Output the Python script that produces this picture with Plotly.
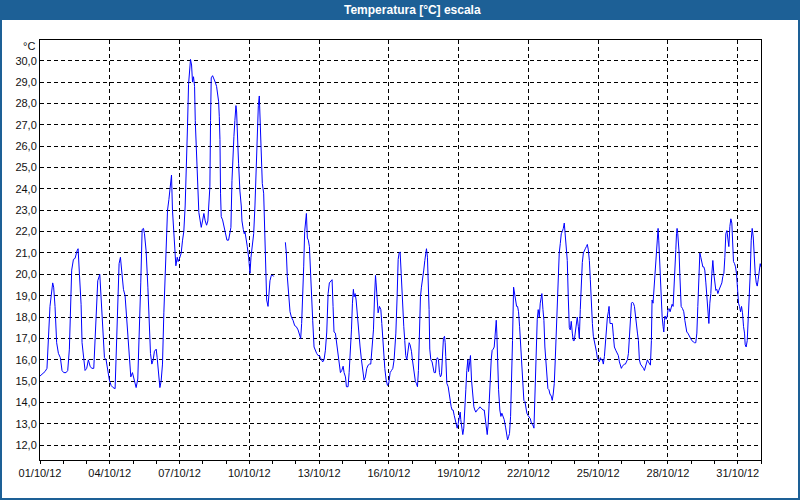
import plotly.graph_objects as go
import pandas as pd

# ---- data: hours since 01/10/2012 00:00 and temperature (°C); None = missing
hours = [
    0.0, 5.2, 7.2, 8.6, 10.3, 13.1, 14.1, 15.5, 17.2, 19.0, 21.0, 22.7, 24.5, 26.9, 28.6, 30.3,
    31.4, 32.7, 34.5, 36.2, 38.2, 39.3, 40.7, 42.4, 43.4, 45.1, 46.5, 48.2, 49.9, 51.7, 53.4, 55.5,
    56.8, 58.2, 59.6, 61.7, 63.0, 64.8, 66.5, 68.2, 69.9, 71.6, 73.4, 75.4, 77.5, 78.9, 80.3, 81.6,
    83.0, 84.4, 86.1, 87.8, 89.2, 90.6, 92.3, 93.7, 95.4, 97.5, 99.2, 100.9, 102.6, 104.0, 105.4,
    106.8, 107.8, 109.5, 111.3, 112.6, 114.0, 115.4, 116.8, 118.1, 119.9, 120.9, 122.3, 123.7,
    125.0, 126.4, 127.8, 129.2, 130.2, 131.6, 133.0, 134.7, 135.7, 136.7, 138.1, 139.5, 140.2,
    141.6, 142.6, 144.0, 145.7, 147.1, 148.4, 149.8, 151.2, 152.2, 153.3, 154.3, 155.3, 156.4,
    157.4, 158.4, 159.5, 160.2, 161.5, 162.6, 163.9, 165.3, 166.4, 167.7, 169.1, 170.5, 171.9,
    173.2, 175.3, 176.0, 176.7, 178.1, 179.4, 180.8, 182.2, 183.2, 184.3, 185.0, 185.7, 186.3,
    187.0, 188.4, 189.8, 190.8, 191.9, 192.9, 194.6, 196.0, 197.0, 198.1, 198.7, 200.1, 201.1,
    202.2, 202.9, 203.6, 204.2, 204.9, 205.6, 206.3, 207.7, 208.4, 209.8, 210.8, 211.5,
    212.5, 213.9, 215.3, 216.7, 217.7, 219.1, 220.5, 221.8, 223.2, 224.2, 225.3, 226.3, 227.3,
    228.4, 229.4, 230.8, 231.8, 232.8, 233.9, 235.3, 236.3, 237.3, 238.7, 240.4, 241.1, 247.0,
    253.2, 254.2, 255.2, 256.6, 258.0, 259.4, 261.1, 262.8, 264.5, 266.3, 267.6, 269.0, 270.0,
    271.1, 272.1, 273.1, 274.2, 274.9, 275.9, 276.9, 278.0, 279.0, 280.0, 281.4, 282.8, 284.2,
    285.5, 286.9, 288.3, 289.3, 290.4, 291.7, 293.1, 294.5, 295.9, 297.3, 298.6, 300.0, 301.4,
    302.4, 303.4, 304.8, 306.2, 307.6, 309.0, 310.0, 311.4, 312.8, 313.8, 315.2, 316.2, 317.9,
    319.0, 320.3, 321.4, 322.4, 323.4, 324.1, 325.2, 326.2, 327.6, 328.9, 330.3, 331.7, 333.1,
    334.4, 335.8, 337.2, 338.6, 340.0, 341.3, 342.7, 344.1, 345.1, 346.2, 346.8, 347.9, 348.9,
    350.3, 351.7, 352.7, 353.7, 354.8, 355.8, 357.2, 358.6, 359.9, 361.3, 362.7, 364.1, 365.4,
    367.2, 368.5, 369.6, 370.6, 371.6, 372.7, 373.3, 374.3, 375.4, 376.4, 377.4, 378.5, 379.5,
    380.9, 381.9, 383.3, 384.3, 385.3, 386.4, 387.4, 388.4, 389.5, 390.5, 391.5, 392.6, 393.6,
    395.0, 396.0, 397.1, 398.1, 398.8, 399.8, 400.5, 401.5, 402.2, 403.3, 404.6, 405.7, 406.7,
    408.1, 409.1, 410.1, 411.2, 412.2, 413.2, 414.3, 415.3, 416.3, 417.4, 418.1, 418.7, 419.8,
    421.2, 422.2, 423.2, 424.3, 425.3, 426.3, 427.4, 428.4, 429.4, 430.5, 431.5, 432.5, 433.6,
    434.2, 435.3, 436.3, 437.3, 438.4, 439.4, 440.4, 441.5, 442.2, 443.2, 444.2, 445.3, 446.6,
    447.7, 448.7, 449.7, 451.1, 452.5, 453.9, 455.6, 457.3, 458.4, 459.4, 460.4, 461.5, 462.5,
    463.5, 464.6, 465.6, 466.6, 467.7, 468.7, 469.7, 470.8, 471.4, 472.1, 473.2, 474.5, 475.6,
    476.6, 477.6, 479.0, 480.4, 481.4, 482.5, 483.5, 484.5, 485.6, 486.6, 487.6, 488.7, 489.7,
    490.7, 491.8, 492.8, 493.8, 494.9, 496.2, 497.3, 498.3, 499.3, 500.4, 501.4, 502.4, 503.5,
    504.5, 505.9, 507.3, 508.6, 509.7, 510.4, 511.1, 512.1, 513.1, 514.1, 515.2, 516.2, 517.2,
    517.9, 519.0, 520.0, 521.0, 522.1, 523.1, 524.1, 525.2, 526.2, 527.6, 528.6, 529.6, 530.7,
    531.7, 532.7, 533.8, 534.8, 535.8, 536.9, 537.9, 538.9, 540.0, 541.0, 542.0, 543.1, 544.1,
    545.1, 546.2, 547.2, 548.2, 549.3, 550.3, 551.3, 552.4, 553.4, 554.4, 555.5, 556.5, 557.5,
    558.6, 559.6, 560.7, 561.7, 562.7, 563.8, 564.8, 565.8, 566.9, 567.9, 568.9, 570.0, 571.0,
    572.0, 573.1, 574.1, 575.1, 576.2, 577.2, 578.2, 579.3, 580.3, 581.3, 582.4, 583.4, 584.4,
    585.5, 586.5, 587.2, 588.2, 589.3, 590.6, 591.7, 592.7, 594.1, 595.5, 596.8, 597.9, 598.9,
    599.9, 601.0, 602.0, 603.0, 604.1, 605.1, 606.1, 607.2, 608.2, 609.2, 610.3, 611.3, 612.3,
    613.4, 614.4, 615.4, 616.5, 617.5, 618.5, 619.6, 620.6, 621.6, 622.7, 623.7, 624.7, 625.8,
    626.8, 627.8, 628.9, 629.9, 630.9, 631.6, 632.6, 633.7, 634.7, 635.7, 636.4, 637.1, 637.8,
    638.5, 639.2, 639.9, 640.6, 641.3, 642.0, 643.0, 643.7, 644.4, 645.0, 646.1, 647.1, 648.1,
    649.2, 650.2, 651.2, 652.3, 653.3, 654.3, 655.4, 656.1, 656.8, 657.4, 658.1, 658.8, 659.5,
    660.2, 660.9, 661.6, 663.0, 664.3, 665.4, 666.4, 667.4, 668.5, 669.5, 670.5, 671.6, 672.6,
    674.0, 675.4, 676.7, 677.8, 678.8, 679.8, 680.9, 681.9, 682.9, 684.0, 685.0, 686.0, 687.1,
    688.1, 689.1, 690.2, 691.2, 692.2, 693.3, 694.3, 695.3, 696.4, 697.4, 698.4, 699.5, 700.5,
    701.5, 702.6, 703.6, 704.6, 705.7, 706.7, 707.7, 708.8, 709.8, 710.8, 711.9, 712.9, 713.9,
    714.6, 715.6, 716.7, 717.7, 718.7, 719.8, 720.8, 721.8, 722.9, 723.9, 724.9, 726.0, 727.0,
    727.7, 728.7, 729.8, 730.8, 731.8, 732.9, 733.9, 734.9, 736.0, 737.0, 738.0, 739.1, 740.1,
    741.1, 742.2, 743.2, 744.0,
]

temps = [
    15.24, 15.45, 15.6, 16.9, 18.5, 19.6, 19.4, 18.5, 16.8, 16.3, 16.1, 15.5, 15.4, 15.4, 15.5, 16.5,
    17.9, 20.2, 20.7, 20.75, 21.1, 21.2, 20.0, 18.6, 16.8, 16.1, 15.5, 15.6, 16.0, 15.7, 15.6, 15.6,
    17.1, 18.5, 19.7, 20.0, 19.0, 17.2, 16.1, 16.0, 15.5, 15.05, 14.8, 14.7, 14.65, 16.9, 18.6, 20.5,
    20.8, 19.9, 19.3, 19.0, 18.0, 17.1, 16.1, 15.2, 15.4, 15.05, 14.7, 15.1, 17.2, 19.6, 22.1,
    22.15, 21.9, 21.1, 19.4, 17.9, 16.3, 15.8, 16.0, 16.4, 16.5, 16.1, 15.5, 14.7,
    15.0, 15.8, 18.2, 20.0, 21.9, 23.0, 23.5, 24.3, 24.65, 23.0, 22.1, 21.0, 20.4,
    20.8, 20.6, 20.75, 21.0, 21.6, 22.0, 23.2, 25.0, 26.9, 28.9, 29.7, 30.06, 29.8,
    29.0, 29.25, 28.8, 27.2, 25.5, 23.9, 22.9, 22.5, 22.2, 22.5, 22.85, 22.5, 22.3,
    22.5, 24.1, 27.2, 29.2, 29.3, 29.1, 29.0, 28.8, 28.4, 28.1, 27.4, 26.3, 23.8,
    22.7, 22.55, 22.3, 22.0, 21.8, 21.6, 21.6, 22.0, 22.2, 24.4, 25.35, 26.45, 27.2,
    27.9, 27.6, 27.0, 26.0, 25.2, 24.4, 23.9, 23.2, 22.5, 22.1, 21.9, 22.0,
    21.6, 21.3, 20.8, 20.05, 20.8, 21.45, 21.9, 23.2, 25.35, 27.2, 27.9, 28.35, 27.1,
    25.7, 24.25, 23.8, 22.4, 20.05, 18.8, 18.5, 19.1, 19.7, 19.95, 19.95, 19.9, None,
    21.5, 21.0, 19.9, 19.0, 18.25, 18.0, 17.85, 17.6, 17.55, 17.4, 17.25, 17.0, 17.7,
    18.8, 20.35, 22.0, 22.5, 22.85, 21.7, 21.6, 21.3, 20.05, 18.8, 17.85, 16.6, 16.4,
    16.3, 16.2, 16.2, 16.1, 16.0, 15.9, 16.0, 16.45, 17.3, 19.1, 19.6, 19.7, 19.75,
    18.5, 17.3, 17.25, 16.7, 16.3, 15.5, 15.4, 15.5, 15.7, 15.4, 15.2, 14.74, 14.74,
    15.4, 16.3, 17.4, 18.65, 19.3, 18.95, 19.1, 18.8, 18.0, 17.1, 16.6, 16.0, 15.5,
    15.05, 15.2, 15.6, 15.75, 15.8, 15.8, 16.45, 17.4, 18.8, 19.95, 19.6, 18.8, 18.2,
    18.5, 18.35, 17.7, 16.9, 16.1, 15.6, 15.05, 14.8, 14.9, 15.4, 15.5, 15.6, 16.0,
    17.25, 18.95, 20.7, 21.0, 21.05, 20.05, 19.4, 18.65, 17.55, 16.9, 16.2, 16.0, 16.3,
    16.8, 16.7, 16.4, 16.0, 15.6, 15.2, 14.98, 14.9, 14.74, 15.5, 17.4, 18.95, 19.4,
    19.8, 20.2, 20.65, 21.0, 21.2, 20.8, 20.05, 18.35, 16.5, 16.0, 15.9, 15.5, 15.4,
    15.4, 16.0, 16.1, 16.0, 15.4, 15.2, 15.3, 16.0, 17.0, 17.1, 16.8, 16.15, 14.9,
    14.74, 14.4, 14.05, 13.8, 13.65, 13.65, 13.4, 13.2, 12.95, 12.8, 13.0, 13.35, 13.55,
    13.2, 12.7, 12.5, 12.8, 13.5, 14.6, 15.5, 16.0, 15.45, 15.9, 16.2, 15.05, 14.1,
    13.8, 13.65, 13.55, 13.65, 13.7, 13.8, 13.7, 13.65, 13.65, 13.2, 12.85, 12.5, 13.0,
    14.1, 15.35, 16.0, 16.45, 16.5, 16.6, 17.4, 17.85, 17.25, 16.0, 14.6, 13.65, 13.35,
    13.5, 13.4, 13.2, 12.85, 12.55, 12.25, 12.4, 12.55, 13.35, 14.74, 16.9, 19.4, 19.1,
    18.65, 18.5, 18.5, 18.25, 17.55, 16.45, 15.35, 14.74, 14.1, 14.05, 13.65, 13.5, 13.4,
    13.35, 13.25, 13.0, 12.95, 12.8, 13.8, 15.5, 17.25, 17.9, 18.35, 18.0, 18.65, 18.95,
    19.1, 18.35, 17.85, 16.6, 16.0, 15.05, 14.65, 14.6, 14.4, 14.3, 14.1, 14.4, 14.9,
    16.0, 17.25, 18.8, 20.05, 21.0, 21.45, 21.9, 22.0, 22.15, 22.4, 21.75, 21.3, 20.65,
    18.95, 17.5, 17.4, 17.8, 17.25, 16.9, 16.9, 17.4, 17.85, 18.0, 17.55, 17.0, 18.35,
    19.6, 20.55, 21.0, 21.15, 21.2, 21.3, 21.4, 21.15, 20.65, 19.75, 18.5, 17.7, 17.1,
    16.9, 16.6, 16.4, 16.1, 16.0, 15.9, 16.1, 16.0, 16.0, 15.8, 16.15, 16.8, 17.4,
    18.0, 18.25, 18.5, 17.7, 17.7, 17.7, 17.1, 16.6, 16.45, 16.3, 16.2, 15.9, 15.75,
    15.6, 15.7, 15.75, 15.8, 15.8, 15.9, 16.0, 16.3, 17.25, 18.2, 18.65, 18.7, 18.65,
    18.5, 18.0, 17.55, 17.25, 16.9, 16.0, 15.8, 15.75, 15.7, 15.6, 15.5, 15.7, 15.8,
    16.0, 15.9, 15.8, 15.75, 16.9, 18.8, 18.65, 19.4, 20.05, 20.8, 21.6, 21.9, 22.15,
    21.6, 20.8, 20.05, 19.25, 18.8, 18.0, 17.55, 17.3, 17.85, 18.05, 17.9, 18.0, 18.35,
    18.4, 18.25, 18.5, 18.6, 18.5, 19.25, 20.05, 21.15, 21.9, 22.15, 21.9, 21.6, 21.0,
    20.05, 19.25, 18.5, 18.4, 18.25, 17.85, 17.55, 17.3, 17.25, 17.15, 17.1, 17.0, 16.9,
    16.85, 16.8, 16.8, 17.25, 18.5, 20.05, 21.0, 20.8, 20.6, 20.35, 20.35, 20.2, 19.6,
    18.95, 18.2, 17.7, 18.65, 19.1, 20.05, 20.65, 20.05, 19.4, 19.25, 19.3, 19.1, 19.25,
    19.4, 19.5, 19.6, 19.9, 20.05, 20.8, 21.9, 22.05, 21.75, 21.3, 22.25, 22.6, 22.4,
    21.6, 20.6, 20.5, 20.35, 20.05, 19.1, 18.65, 18.5, 18.25, 18.5, 18.2, 17.55, 17.25,
    16.7, 16.6, 16.9, 17.85, 18.95, 20.05, 21.6, 22.15, 21.75, 20.8, 20.05, 19.6, 19.45,
    19.75, 20.2, 20.5, 20.35,
]

y_ticks = [12, 13, 14, 15, 16, 17, 18, 19, 20, 21, 22, 23, 24, 25, 26, 27, 28, 29, 30]
title_text = "Temperatura [°C] escala"
unit_text = "°C"

start = pd.Timestamp("2012-10-01 00:00")
end = pd.Timestamp("2012-11-01 00:00")
times = start + pd.to_timedelta(hours, unit="h")

BLUE_FRAME = "#1d6096"
FONT = "Liberation Sans"
DAY_MS = 86400000

# plot area geometry in pixels
W, H = 800, 500
L, R, T, B = 40, 39, 40, 40
PW, PH = W - L - R, H - T - B


def px(x):
    return (x - L) / PW


def py(y):
    return (H - B - y) / PH


fig = go.Figure()
fig.add_trace(go.Scatter(
    x=times, y=temps, mode="lines",
    line=dict(color="#0000ff", width=1),
    connectgaps=False, hoverinfo="x+y",
))

axis_common = dict(
    showgrid=True, gridcolor="#000000", gridwidth=1, griddash="4px,3px",
    showline=True, linecolor="#000000", linewidth=1, mirror=True,
    zeroline=False, tickfont=dict(family=FONT, size=11, color="#111111"),
)

fig.update_layout(
    width=W, height=H,
    margin=dict(l=L, r=R, t=T, b=B, pad=0),
    paper_bgcolor="#ffffff", plot_bgcolor="#ffffff",
    showlegend=False,
    separators=",.",
    xaxis=dict(
        type="date", range=[start, end],
        tick0=start, dtick=3 * DAY_MS, tickformat="%d/%m/%y",
        ticks="outside", ticklen=3, tickcolor="#000000",
        minor=dict(dtick=DAY_MS, tick0=start, ticks="outside", ticklen=3,
                   tickcolor="#000000", showgrid=False),
        **axis_common,
    ),
    yaxis=dict(
        range=[11.31, 30.97], tickvals=y_ticks, tickformat=".1f",
        ticks="", **axis_common,
    ),
    shapes=[
        dict(type="rect", xref="paper", yref="paper",
             x0=px(0), x1=px(W), y0=py(20), y1=py(0),
             fillcolor=BLUE_FRAME, line=dict(width=0), layer="above"),
        dict(type="rect", xref="paper", yref="paper",
             x0=px(1), x1=px(W - 1), y0=py(H - 1), y1=py(1),
             fillcolor="rgba(0,0,0,0)", line=dict(color=BLUE_FRAME, width=2),
             layer="above"),
    ],
    annotations=[
        dict(text="<b>" + title_text + "</b>", xref="paper", yref="paper",
             x=px(412), y=py(10), xanchor="center", yanchor="middle",
             showarrow=False, font=dict(family=FONT, size=12, color="#ffffff")),
        dict(text=unit_text, xref="paper", yref="paper",
             x=px(37), y=py(46), xanchor="right", yanchor="middle",
             showarrow=False, font=dict(family=FONT, size=11, color="#111111")),
    ],
)

fig.write_html(
    "out.html",
    config={"displayModeBar": False},
    post_script="document.body.style.margin='0';document.body.style.overflow='hidden';",
)
